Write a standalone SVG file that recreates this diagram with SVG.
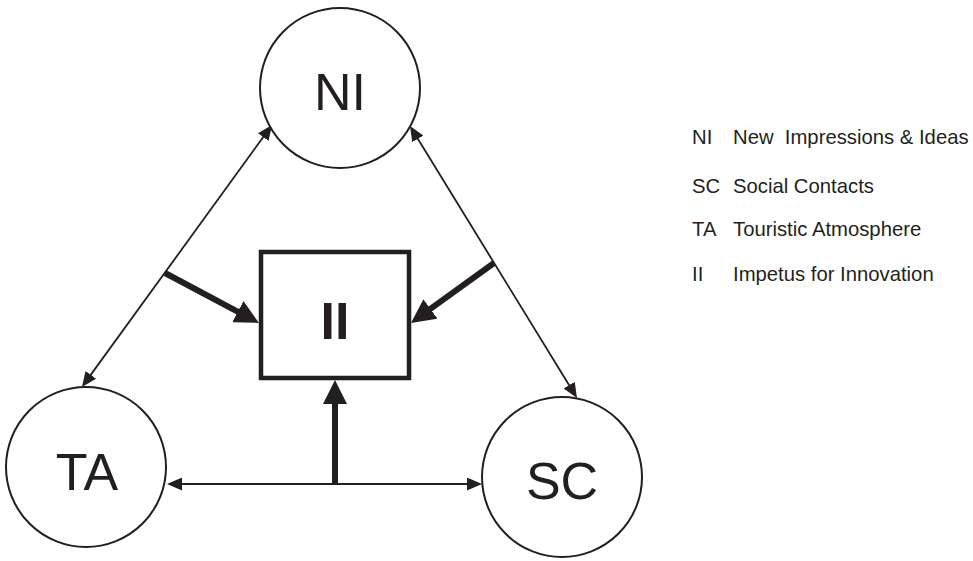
<svg xmlns="http://www.w3.org/2000/svg" width="973" height="561" viewBox="0 0 973 561">
<style>
  .node { fill: #fff; stroke: #231f20; stroke-width: 2; }
  .box { fill: #fff; stroke: #231f20; stroke-width: 4.5; }
  .big { font-family: "Liberation Sans", Arial, sans-serif; font-size: 52px; fill: #231f20; text-anchor: middle; }
  .leg { font-family: "Liberation Sans", Arial, sans-serif; font-size: 20.3px; fill: #231f20; white-space: pre; }
  .thin { stroke: #231f20; stroke-width: 1.8; fill: none; marker-start: url(#ah); marker-end: url(#ah); }
  .thick { stroke: #231f20; stroke-width: 6; fill: none; marker-end: url(#ahb); }
</style>
<defs>
  <marker id="ah" markerUnits="userSpaceOnUse" markerWidth="15" markerHeight="13" refX="10" refY="6.5" orient="auto-start-reverse">
    <path d="M0,0 L15,6.5 L0,13 z" fill="#231f20"/>
  </marker>
  <marker id="ahb" markerUnits="userSpaceOnUse" markerWidth="24" markerHeight="24" refX="12" refY="12" orient="auto">
    <path d="M0,0 L24,12 L0,24 z" fill="#231f20"/>
  </marker>
</defs>
<rect width="973" height="561" fill="#fff"/>
<g id="connectors">
  <line class="thin" x1="269.1" y1="129" x2="84.9" y2="382.9"/>
  <line class="thin" x1="412.6" y1="130.3" x2="574.4" y2="393.7"/>
  <line class="thin" x1="172" y1="484" x2="477" y2="484"/>
  <line class="thick" x1="165" y1="273" x2="248.4" y2="317.3"/>
  <line class="thick" x1="494" y1="263" x2="420.7" y2="315.9"/>
  <line class="thick" x1="335" y1="484" x2="335" y2="392"/>
</g>
<g id="NI">
  <circle class="node" cx="340" cy="88" r="80"/>
  <text class="big" x="340" y="110">NI</text>
</g>
<g id="TA">
  <circle class="node" cx="86" cy="467" r="80"/>
  <text class="big" x="87" y="490">TA</text>
</g>
<g id="SC">
  <circle class="node" cx="562" cy="477" r="80"/>
  <text class="big" x="562" y="499">SC</text>
</g>
<g id="II">
  <rect class="box" x="261" y="252" width="148" height="126"/>
  <text class="big" x="335" y="339" font-weight="bold">II</text>
</g>
<g id="legend">
  <text class="leg" x="692" y="144">NI</text>
  <text class="leg" x="733" y="144">New  Impressions &amp; Ideas</text>
  <text class="leg" x="692" y="193">SC</text>
  <text class="leg" x="733" y="193">Social Contacts</text>
  <text class="leg" x="692" y="236">TA</text>
  <text class="leg" x="733" y="236">Touristic Atmosphere</text>
  <text class="leg" x="692" y="281">II</text>
  <text class="leg" x="733" y="281">Impetus for Innovation</text>
</g>
</svg>
